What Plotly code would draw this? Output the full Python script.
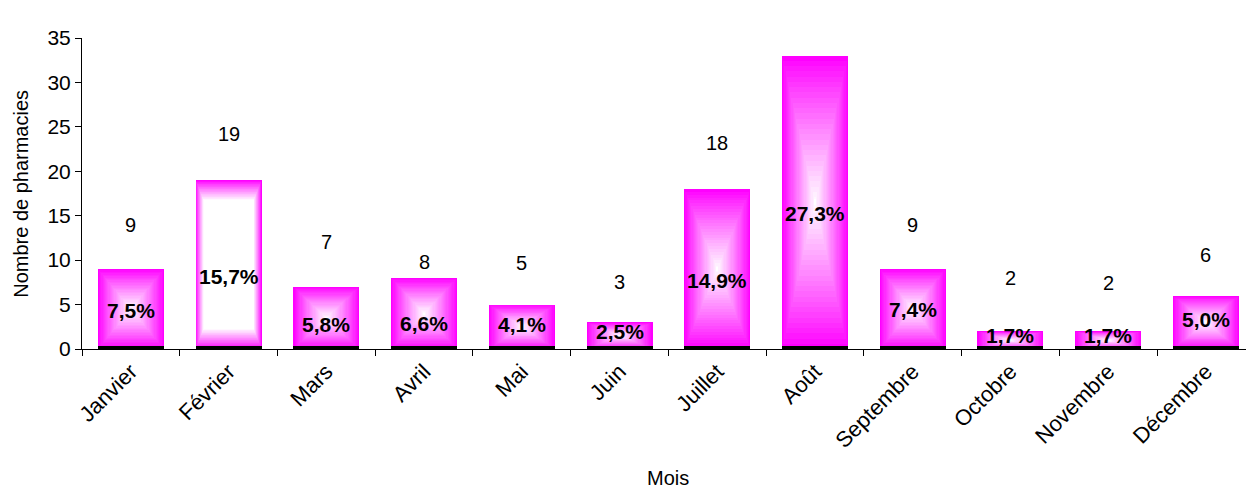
import plotly.graph_objects as go

# Nombre de pharmacies par mois
months = ["Janvier", "Février", "Mars", "Avril", "Mai", "Juin", "Juillet",
          "Août", "Septembre", "Octobre", "Novembre", "Décembre"]
counts = [9, 19, 7, 8, 5, 3, 18, 33, 9, 2, 2, 6]
shares = ["7,5%", "15,7%", "5,8%", "6,6%", "4,1%", "2,5%", "14,9%",
          "27,3%", "7,4%", "1,7%", "1,7%", "5,0%"]

# label placement (axis units) and per-bar fill style
count_label_y = [13.95, 24.2, 12.0, 9.8, 9.7, 7.5, 23.2, 36.5, 13.95, 8.0, 7.4, 10.6]
share_label_y = [4.3, 8.2, 2.8, 2.9, 2.8, 2.0, 7.7, 15.3, 4.4, 1.5, 1.5, 3.3]
fill_style = ["center", "frame"] + ["center"] * 10

BAR_W = 0.675
LEVELS = 28
PX_X = 1 / 97.7   # category units per pixel
PX_Y = 35 / 311   # y units per pixel

fig = go.Figure()


def mix(t):
    g = int(round(255 * min(max(t, 0), 1)))
    return f"rgb(255,{g},255)"


for k in range(LEVELS + 1):
    t = k / LEVELS
    widths, bases, heights = [], [], []
    for v, style in zip(counts, fill_style):
        if style == "center":
            s = max(1 - t, 0.02)
            widths.append(BAR_W * s)
            bases.append(v / 2 * (1 - s))
            heights.append(v * s)
        else:
            dx = t * 8 * PX_X
            dy = t * 20 * PX_Y
            widths.append(BAR_W - 2 * dx)
            bases.append(dy)
            heights.append(v - 2 * dy)
    color = mix(t ** 0.9)
    fig.add_trace(go.Bar(
        x=months, y=heights, base=bases, width=widths,
        marker=dict(color=color, line=dict(width=0)),
        hoverinfo="skip", showlegend=False,
    ))

# dark strip along the foot of every bar
fig.add_trace(go.Bar(
    x=months, y=[0.33] * len(months), base=0, width=BAR_W,
    marker=dict(color="black", line=dict(width=0)),
    hoverinfo="skip", showlegend=False,
))

font = "Liberation Sans, Arial, sans-serif"
annotations = []
for m, c, cy in zip(months, counts, count_label_y):
    annotations.append(dict(x=m, y=cy, xref="x", yref="y", text=str(c),
                            showarrow=False, font=dict(family=font, size=20, color="black")))
for m, p, py in zip(months, shares, share_label_y):
    annotations.append(dict(x=m, y=py, xref="x", yref="y", text=f"<b>{p}</b>",
                            showarrow=False, font=dict(family=font, size=21, color="black")))
annotations.append(dict(x=5.5, y=-0.416, xref="x", yref="paper", text="Mois",
                        showarrow=False, yanchor="middle",
                        font=dict(family=font, size=20, color="black")))
annotations.append(dict(x=-0.053, y=0.5, xref="paper", yref="paper",
                        text="Nombre de pharmacies", textangle=-90,
                        showarrow=False, xanchor="center", yanchor="middle",
                        font=dict(family=font, size=20, color="black")))

fig.update_layout(
    width=1246, height=489,
    margin=dict(l=82, r=0, t=38, b=140),
    barmode="overlay", bargap=0,
    plot_bgcolor="white", paper_bgcolor="white",
    font=dict(family=font, size=20, color="black"),
    annotations=annotations,
    xaxis=dict(
        range=[-0.5, 11.41], showline=True, linecolor="black", linewidth=1,
        ticks="outside", tickson="boundaries", ticklen=6, tickcolor="black",
        tickangle=-45, showgrid=False, tickfont=dict(size=22),
    ),
    yaxis=dict(
        range=[0, 35], dtick=5, showline=True, linecolor="black", linewidth=1,
        ticks="outside", ticklen=6, tickcolor="black", showgrid=False,
        zeroline=False, tickfont=dict(size=21),
    ),
)

fig.write_html("out.html")
